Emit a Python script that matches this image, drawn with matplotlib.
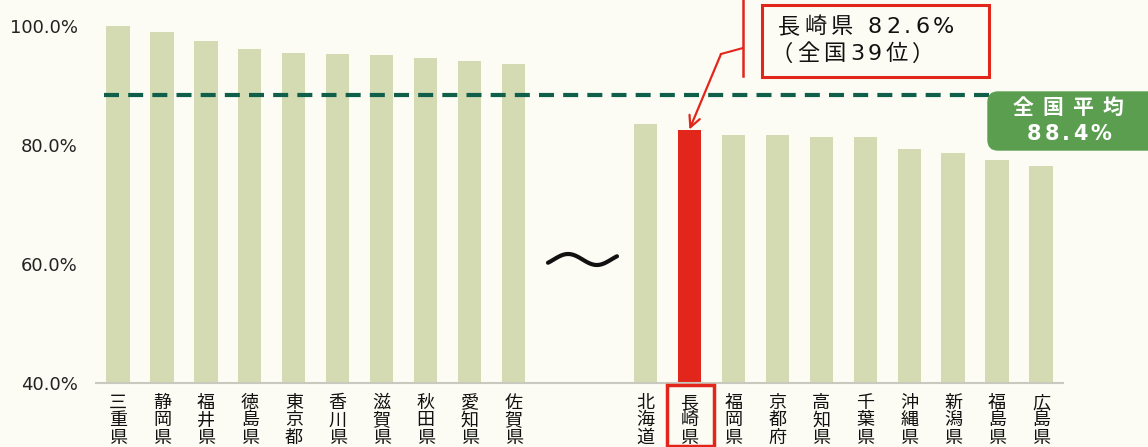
import numpy as np
import matplotlib
matplotlib.use('Agg')
import matplotlib.pyplot as plt
from matplotlib.patches import Rectangle, FancyBboxPatch
from matplotlib.lines import Line2D

plt.rcParams['font.family'] = ['Noto Sans CJK JP', 'DejaVu Sans']
MIXED = ['DejaVu Sans', 'Noto Sans CJK JP']

# data
top_prefs = ['三重県', '静岡県', '福井県', '徳島県', '東京都', '香川県', '滋賀県', '秋田県', '愛知県', '佐賀県']
top_rates = [100.0, 99.0, 97.4, 96.1, 95.4, 95.3, 95.2, 94.7, 94.1, 93.6]
bottom_prefs = ['北海道', '長崎県', '福岡県', '京都府', '高知県', '千葉県', '沖縄県', '新潟県', '福島県', '広島県']
bottom_rates = [83.6, 82.6, 81.7, 81.7, 81.4, 81.4, 79.4, 78.7, 77.5, 76.4]
national_avg = 88.4
nagasaki_rank = 39
highlight = '長崎県'
y_ticks = [40, 60, 80, 100]

W, H = 1148, 447
BG = '#fcfcf4'
BAR = '#d4dab2'
RED = '#e2261b'
DASH = '#0f5f4a'
GREEN = '#5b9e4f'

fig = plt.figure(figsize=(W / 100, H / 100), dpi=100, facecolor=BG)
ax = fig.add_axes([96 / W, (H - 383) / H, (1063 - 96) / W, 383 / H])
ax.set_facecolor(BG)

names = top_prefs + bottom_prefs
rates = top_rates + bottom_rates
pos = list(range(len(top_prefs))) + list(range(len(top_prefs) + 2, len(top_prefs) + 2 + len(bottom_prefs)))
colors = [RED if n == highlight else BAR for n in names]

ax.bar(pos, [r - 40 for r in rates], bottom=40, width=0.53, color=colors, zorder=2)

ax.set_xlim(-0.5, pos[-1] + 0.5)
ax.set_ylim(40, 40 + 383 / 5.95)
ax.set_yticks(y_ticks, labels=[f'{v:.1f}%' for v in y_ticks], fontsize=13,
              fontfamily='DejaVu Sans', color='#222222')
ax.set_xticks(pos, labels=['\n'.join(n) for n in names], fontsize=13,
              linespacing=0.95, color='#111111')
ax.tick_params(axis='both', length=0)
ax.tick_params(axis='y', pad=13)
ax.tick_params(axis='x', pad=8)
for s in ['left', 'top', 'right']:
    ax.spines[s].set_visible(False)
ax.spines['bottom'].set_color('#c9c9c0')
ax.spines['bottom'].set_linewidth(1.5)

# national average line
ax.axhline(national_avg, xmin=(104 - 96) / 967, xmax=(990 - 96) / 967, color=DASH,
           lw=3, linestyle=(0, (3.6, 2.2)), zorder=3)

# figure-pixel helpers (y from top)
T = fig.dpi_scale_trans
renderer = fig.canvas.get_renderer()


def inch(x, y):
    return x / 100, (H - y) / 100


def tracked(x, y, s, size, track, ha='left', **kw):
    """Draw a string char by char with extra letter spacing (pixels)."""
    widths = []
    for ch in s:
        t = fig.text(0, 0, ch, fontsize=size, family=MIXED, **kw)
        widths.append(t.get_window_extent(renderer).width)
        t.remove()
    total = sum(widths) + track * (len(s) - 1)
    if ha == 'center':
        x -= total / 2
    for ch, w in zip(s, widths):
        fig.text(x / W, 1 - y / H, ch, fontsize=size, family=MIXED, ha='left',
                 va='center', **kw)
        x += w + track


# tilde between the groups
t = np.linspace(-0.1, 1.1, 60)
tx = 548 + (t + 0.1) / 1.2 * 69
ty = 259.5 - 5.5 * np.sin(2 * np.pi * t)
fig.add_artist(Line2D(tx / 100, (H - ty) / 100, transform=T, color='#111111', lw=3,
                      solid_capstyle='round'))

# box around highlighted label
fig.add_artist(Rectangle(inch(667, 446), 47 / 100, 61 / 100, transform=T, fill=False,
                         ec=RED, lw=2.5))

# callout
fig.add_artist(Line2D([7.43, 7.43], [(H - 0) / 100, (H - 76) / 100], transform=T,
                      color=RED, lw=1.8))
fig.add_artist(Line2D([7.43, 7.21], [(H - 48) / 100, (H - 54) / 100], transform=T,
                      color=RED, lw=1.5))
hi = names.index(highlight)
ax.annotate('', xy=(pos[hi], rates[hi]), xycoords='data',
            xytext=(721, H - 54), textcoords='figure pixels',
            arrowprops=dict(arrowstyle='->,head_length=0.8,head_width=0.4', color=RED,
                            lw=1.6, shrinkA=0, shrinkB=0), zorder=5)
fig.add_artist(Rectangle(inch(762, 77), 227 / 100, 72 / 100, transform=T, fill=False,
                         ec=RED, lw=2.2))
tracked(778, 27, f'{highlight} {rates[hi]:.1f}%', 16, 4, color='#111111')
tracked(771, 54, f'（全国{nagasaki_rank}位）', 16, 4, color='#111111')

# national average badge
fig.add_artist(FancyBboxPatch(inch(988, 150), 1.8, 0.58, transform=T,
                              boxstyle='round,pad=0,rounding_size=0.1',
                              fc=GREEN, ec=GREEN))
tracked(1068, 108, '全国平均', 15, 9, ha='center', color='white', fontweight='bold')
tracked(1069, 134, f'{national_avg:.1f}%', 15, 3, ha='center', color='white',
        fontweight='bold')

fig.savefig('out.png', dpi=100, facecolor=BG)
